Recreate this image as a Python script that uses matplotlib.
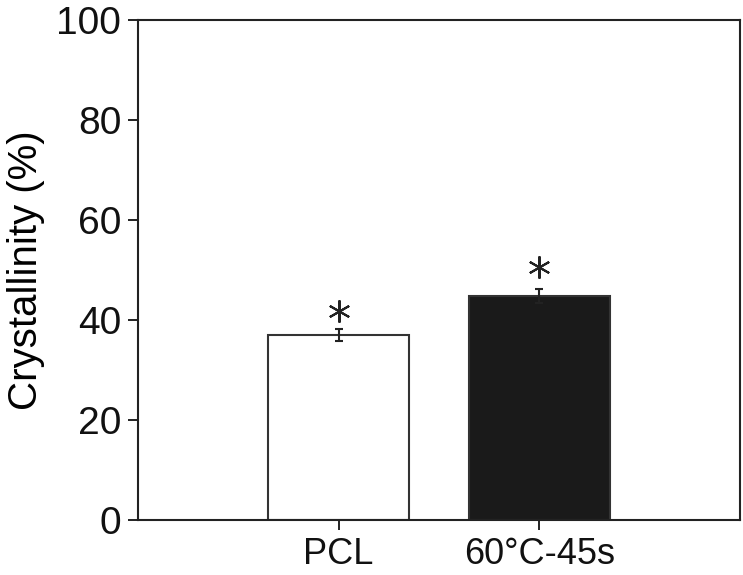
import matplotlib
matplotlib.use("Agg")
import matplotlib.pyplot as plt

# --- Data ---
groups = ["PCL", "60°C-45s"]
crystallinity = [37.0, 44.8]
errors = [1.2, 1.4]
star_y = [41.8, 50.6]
colors = ["white", "#1a1a1a"]

plt.rcParams['font.family'] = ['Liberation Sans', 'DejaVu Sans']

fig = plt.figure(figsize=(7.43, 5.75), dpi=100)
ax = fig.add_axes([0.1857, 0.0957, 0.8103, 0.8693])

xs = [1, 2]
ax.bar(xs, crystallinity, width=0.7, color=colors, edgecolor="#333333", linewidth=1.5)
ax.errorbar(xs, crystallinity, yerr=errors, fmt="none", ecolor="#222222",
            elinewidth=1.5, capsize=3, capthick=1.5)

# significance markers
ax.plot(xs, star_y, linestyle="none", marker=(6, 2, 0), markersize=16,
        markeredgewidth=1.5, color="#222222")

ax.set_xlim(0, 3)
ax.set_ylim(0, 100)
ax.set_yticks([0, 20, 40, 60, 80, 100])
ax.set_xticks(xs)
ax.set_xticklabels(groups)
ax.set_ylabel("Crystallinity (%)", fontsize=29, labelpad=8)

ax.tick_params(axis="both", direction="out", length=7, width=1.3,
               colors="#111111")
ax.tick_params(axis="y", labelsize=28, pad=5)
ax.tick_params(axis="x", labelsize=26, pad=5)
for s in ax.spines.values():
    s.set_linewidth(1.5)
    s.set_color("#222222")

fig.savefig("out.png", dpi=100)
